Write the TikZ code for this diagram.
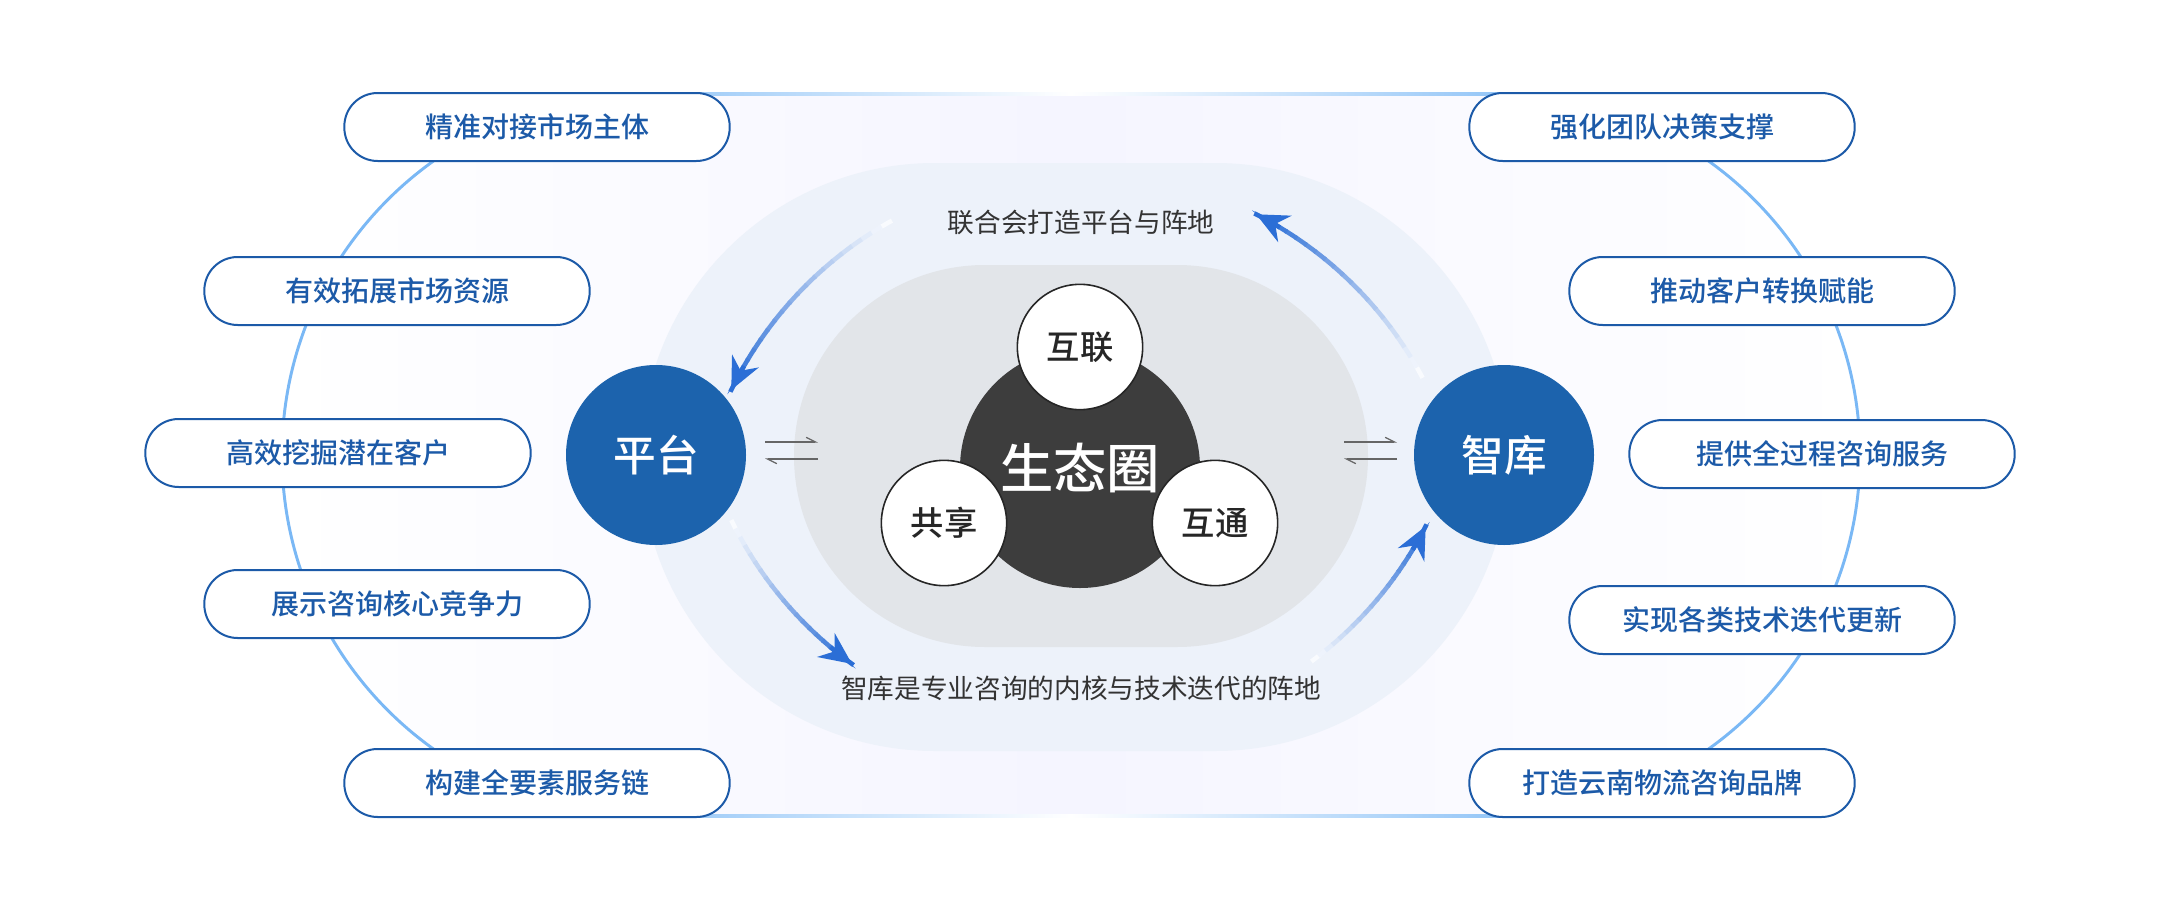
\documentclass[tikz,border=0pt]{standalone}
\usepackage{fontspec}
\setmainfont{Noto Sans CJK SC}
\newfontfamily\cjkmed{Noto Sans CJK SC Medium}
\usetikzlibrary{arrows.meta,calc}
\definecolor{pillblue}{HTML}{1C5AA8}
\definecolor{hubblue}{HTML}{1C63AD}
\definecolor{arrowblue}{HTML}{2B6ED6}
\definecolor{outline}{HTML}{7AB8F5}
\definecolor{midfill}{HTML}{EDF2FA}
\definecolor{grayfill}{HTML}{E2E5E9}
\definecolor{darkc}{HTML}{3D3D3D}
\tikzset{
 pill/.style={draw=pillblue,line width=1.5pt,fill=white,rounded corners=25pt,minimum width=289pt,minimum height=51pt,text=pillblue,font=\fontsize{21}{25}\selectfont},
 hub/.style={circle,fill=hubblue,minimum size=135pt,text=white,font=\fontsize{32}{36}\selectfont},
 small/.style={circle,draw=black!85,line width=1.2pt,fill=white,minimum size=94pt,text=black!85,font=\fontsize{25}{28}\selectfont},
 core/.style={circle,fill=darkc,minimum size=180pt,text=white,font=\fontsize{40}{44}\selectfont},
 captext/.style={text=black!80,font=\fontsize{20}{24}\selectfont},
 harp/.style={draw=black!60,line width=0.9pt,-{Straight Barb[left,length=7pt,width=7pt]}}
}
\newcommand\gradarc[3]{%
 \foreach \i in {0,...,19}{%
   \pgfmathsetmacro\aa{#2+(#3-#2)*\i/20}%
   \pgfmathsetmacro\bb{#2+(#3-#2)*(\i+1)/20+0.3}%
   \pgfmathsetmacro\pc{3+97*\i/19}%
   \draw[line width=3.4pt,draw=arrowblue!\pc!white] ($(#1)+(\aa:291pt)$) arc[start angle=\aa,end angle=\bb,radius=291pt];
 }%
 \pgfmathsetmacro\cc{#3-4*sign(#3-#2)}%
 \draw[line width=3.4pt,arrowblue,-{Stealth[length=24pt,width=22pt,inset=8pt]}] ($(#1)+(\cc:291pt)$) arc[start angle=\cc,end angle=#3,radius=291pt];
}
\begin{document}
\begin{tikzpicture}[x=0.75pt,y=0.75pt]
\useasboundingbox (0,0) rectangle (2160,-910);
% outer stadium
\shade[left color=white,right color=white,middle color=blue!4!white] (643,-94) -- (1499,-94) arc[start angle=90,end angle=-90,radius=270.75pt] -- (643,-816) arc[start angle=270,end angle=90,radius=270.75pt] -- cycle;
\draw[outline,line width=2.2pt] (643,-94) arc[start angle=90,end angle=270,radius=270.75pt];
\draw[outline,line width=2.2pt] (1499,-94) arc[start angle=90,end angle=-90,radius=270.75pt];
\shade[left color=outline!80!white,right color=white] (643,-92.5) rectangle (1071,-95.5);
\shade[left color=white,right color=outline!80!white] (1071,-92.5) rectangle (1499,-95.5);
\shade[left color=outline!80!white,right color=white] (643,-814.5) rectangle (1071,-817.5);
\shade[left color=white,right color=outline!80!white] (1071,-814.5) rectangle (1499,-817.5);
% middle stadium
\fill[midfill] (935,-163) -- (1215,-163) arc[start angle=90,end angle=-90,radius=220.5pt] -- (935,-751) arc[start angle=270,end angle=90,radius=220.5pt] -- cycle;
% inner gray
\fill[grayfill] (985,-265) -- (1177,-265) arc[start angle=90,end angle=-90,radius=143.25pt] -- (985,-647) arc[start angle=270,end angle=90,radius=143.25pt] -- cycle;
% centers for arcs
\coordinate (ctop) at (1080,-560);
\coordinate (cbot) at (1080,-350);
\gradarc{ctop}{119}{154}
\gradarc{ctop}{28}{63}
\gradarc{cbot}{206}{234}
\gradarc{cbot}{306.6}{333}
% captions
\node[captext] (t1) at (1081,-222) {联合会打造平台与阵地};
\node[captext] (t2) at (1081,-688) {智库是专业咨询的内核与技术迭代的阵地};
% core
\node[core] (core) at (1080,-468) {\cjkmed 生态圈};
\node[small] (hl) at (1080,-347) {\cjkmed 互联};
\node[small] (gx) at (944,-523) {\cjkmed 共享};
\node[small] (ht) at (1215,-523) {\cjkmed 互通};
% hubs
\node[hub] (pt) at (656,-455) {\cjkmed 平台};
\node[hub] (zk) at (1504,-455) {\cjkmed 智库};
% harpoons
\coordinate (la1) at (765,-442); \coordinate (lb1) at (818,-442);
\coordinate (la2) at (765,-459); \coordinate (lb2) at (818,-459);
\draw[harp] (la1) -- (lb1);
\draw[harp] (lb2) -- (la2);
\coordinate (ra1) at (1344,-442); \coordinate (rb1) at (1397,-442);
\coordinate (ra2) at (1344,-459); \coordinate (rb2) at (1397,-459);
\draw[harp] (ra1) -- (rb1);
\draw[harp] (rb2) -- (ra2);
% pills left
\node[pill] (l1) at (537,-127) {\cjkmed 精准对接市场主体};
\node[pill] (l2) at (397,-291) {\cjkmed 有效拓展市场资源};
\node[pill] (l3) at (338,-453) {\cjkmed 高效挖掘潜在客户};
\node[pill] (l4) at (397,-604) {\cjkmed 展示咨询核心竞争力};
\node[pill] (l5) at (537,-783) {\cjkmed 构建全要素服务链};
% pills right
\node[pill] (r1) at (1662,-127) {\cjkmed 强化团队决策支撑};
\node[pill] (r2) at (1762,-291) {\cjkmed 推动客户转换赋能};
\node[pill] (r3) at (1822,-454) {\cjkmed 提供全过程咨询服务};
\node[pill] (r4) at (1762,-620) {\cjkmed 实现各类技术迭代更新};
\node[pill] (r5) at (1662,-783) {\cjkmed 打造云南物流咨询品牌};
\end{tikzpicture}
\end{document}
